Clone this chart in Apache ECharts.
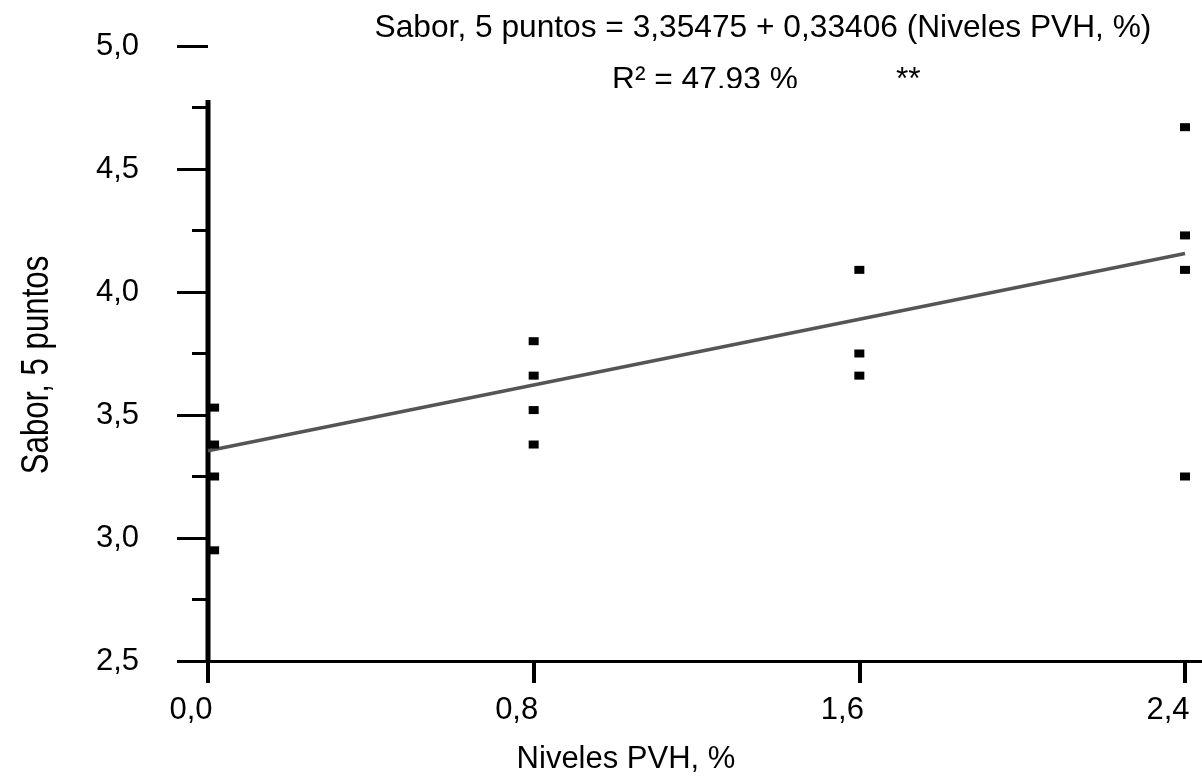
<!DOCTYPE html>
<html>
<head>
<meta charset="utf-8">
<title>Sabor vs Niveles PVH</title>
<script src="https://cdn.jsdelivr.net/npm/echarts@6/dist/echarts.min.js"></script>
<style>
  html, body { margin: 0; padding: 0; background: #fff; }
  #chart { width: 1202px; height: 780px; }
</style>
</head>
<body>
<div id="chart"></div>
<script>
// Observed sensory scores (flavour, 5-point scale) per PVH inclusion level
const nivelesPVH = [0.015, 0.015, 0.015, 0.015, 0.8, 0.8, 0.8, 0.8, 1.6, 1.6, 1.6, 2.4, 2.4, 2.4, 2.4];
const sabor      = [3.53, 3.38, 3.25, 2.95, 3.80, 3.66, 3.52, 3.38, 4.09, 3.75, 3.66, 4.67, 4.23, 4.09, 3.25];

// Fitted regression
const intercepto = 3.35475;
const pendiente = 0.33406;
const rCuadrado = '47,93';
const xTramo = [0, 2.4];

// Axis ticks
const xTicks = [0, 0.8, 1.6, 2.4];
const Y_MIN = 2.5, Y_MAX = 5.0, Y_STEP = 0.5;

const fmt = v => v.toFixed(1).replace('.', ',');
const FONT = '"Liberation Sans", Arial, sans-serif';

const puntos = nivelesPVH.map((x, i) => [x, sabor[i]]);
const recta = xTramo.map(x => [x, intercepto + pendiente * x]);

const chart = echarts.init(document.getElementById('chart'), null, { renderer: 'canvas' });

const headStyle = { fontSize: 31.7, fontWeight: 'normal', color: '#000', fontFamily: FONT };

chart.setOption({
  animation: false,
  backgroundColor: '#ffffff',
  textStyle: { fontFamily: FONT, color: '#000' },
  title: [
    {
      text: 'Sabor, 5 puntos = 3,35475 + 0,33406 (Niveles PVH, %)',
      left: 758, top: 7, textAlign: 'center',
      textStyle: headStyle
    },
    {
      text: 'R² = ' + rCuadrado + ' %',
      left: 607, top: 59,
      textStyle: headStyle
    },
    {
      text: '**',
      left: 891, top: 59,
      textStyle: headStyle
    }
  ],
  graphic: [
    // the second header line sits partly behind the plot frame
    { type: 'rect', z: 100, shape: { x: 590, y: 88, width: 230, height: 10 }, style: { fill: '#fff' } },
    {
      // condensed vertical axis title
      type: 'text', z: 100,
      x: 37, y: 365, rotation: Math.PI / 2,
      scaleX: 0.8, scaleY: 1,
      style: {
        text: 'Sabor, 5 puntos',
        font: '39px ' + FONT,
        fill: '#000',
        align: 'center',
        verticalAlign: 'middle'
      }
    }
  ],
  grid: { left: 208, right: 0, top: 46, bottom: 117, containLabel: false },
  xAxis: {
    type: 'value',
    min: 0,
    max: 2.4 + 0.8 * 17 / 326,
    name: 'Niveles PVH, %',
    nameLocation: 'middle',
    nameGap: 83,
    nameTextStyle: { fontSize: 31, color: '#000', fontFamily: FONT, padding: [0, 158, 0, 0] },
    axisLine: { show: true, lineStyle: { color: '#000', width: 3 } },
    axisTick: { show: true, length: 22, customValues: xTicks, lineStyle: { color: '#000', width: 4 } },
    axisLabel: {
      customValues: xTicks, margin: 34, fontSize: 31, color: '#000', fontFamily: FONT,
      padding: [0, 34, 0, 0],
      formatter: fmt
    },
    splitLine: { show: false }
  },
  yAxis: {
    type: 'value',
    min: Y_MIN, max: Y_MAX, interval: Y_STEP,
    axisLine: { show: false },
    axisTick: { show: true, length: 31, lineStyle: { color: '#000', width: 3 } },
    minorTick: { show: true, splitNumber: 2, length: 16, lineStyle: { color: '#000', width: 3 } },
    axisLabel: { margin: 69, fontSize: 31, color: '#000', fontFamily: FONT, formatter: fmt },
    splitLine: { show: false },
    minorSplitLine: { show: false }
  },
  series: [
    {
      // vertical frame of the plot
      type: 'line',
      data: [[0, Y_MIN], [0, 4.78]],
      symbol: 'none', silent: true, z: 1,
      lineStyle: { color: '#000', width: 5 }
    },
    {
      type: 'line',
      data: recta,
      symbol: 'none', silent: true, z: 2,
      lineStyle: { color: '#555', width: 3.5 }
    },
    {
      type: 'scatter',
      data: puntos,
      symbol: 'rect', symbolSize: [10, 8], z: 3,
      itemStyle: { color: '#000', opacity: 1 }
    }
  ]
});
</script>
</body>
</html>
